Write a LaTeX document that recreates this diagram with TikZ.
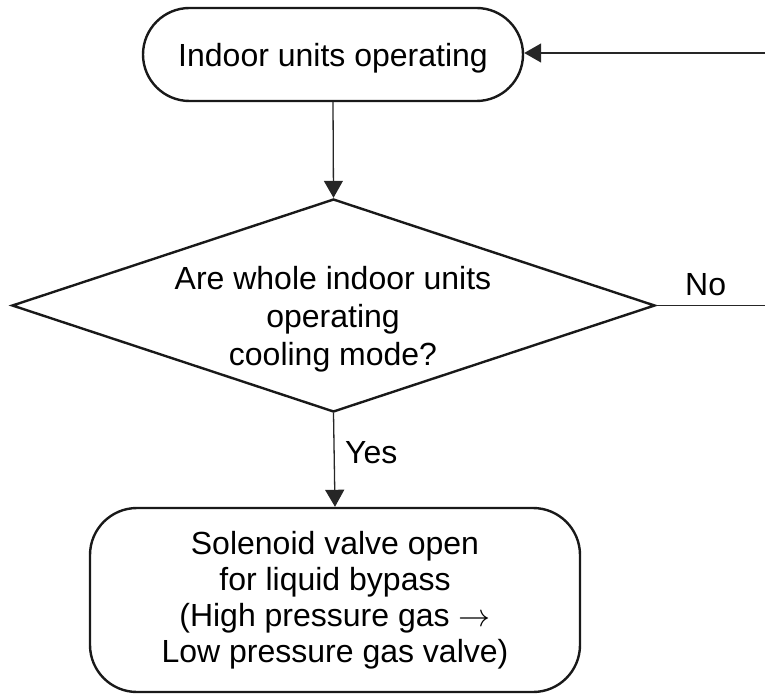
\RequirePackage{fix-cm}
\documentclass[tikz,border=0pt]{standalone}
\usepackage{fontspec}
\setmainfont{Liberation Sans}
\usetikzlibrary{shapes.geometric,arrows.meta}
\begin{document}
\begin{tikzpicture}[x=1pt,y=-1pt,
  shapeline/.style={draw=black!90, line width=2.4pt},
  termbox/.style={shapeline, inner sep=0pt, align=center, font=\fontsize{32}{36}\selectfont},
  decbox/.style={shapeline, diamond, inner sep=0pt},
  txt/.style={align=center, inner sep=0pt, font=\fontsize{32}{38}\selectfont},
  lbl/.style={inner sep=0pt, font=\fontsize{32}{36}\selectfont},
  conn/.style={draw=black!85, line width=1.3pt, -{Triangle[length=17pt,width=19pt]}},
  plain/.style={draw=black!85, line width=1.3pt}]
\useasboundingbox (0,0) rectangle (765,695);
\node[termbox, minimum width=380pt, minimum height=93pt, rounded corners=46.5pt, text depth=0pt] (top) at (333,54.5) {Indoor units operating};
\node[decbox, minimum width=643pt, minimum height=213pt] (dia) at (333.5,305.5) {};
\node[txt] (q) at (333,319) {Are whole indoor units\\operating\\cooling mode?};
\node[termbox, minimum width=490pt, minimum height=184pt, rounded corners=47pt] (bot) at (335,600) {Solenoid valve open\\for liquid bypass\\(High pressure gas $\rightarrow$\\Low pressure gas valve)};
\node[lbl, anchor=base west] (yes) at (345,463) {Yes};
\node[lbl, anchor=base west] (no) at (685,295) {No};
\coordinate (e1) at (765,305.5);
\coordinate (e2) at (765,53);
\draw[conn] (top.south) -- (dia.north);
\draw[conn] (dia.south) -- (bot.north);
\draw[plain] (dia.east) -- (e1);
\draw[conn] (e2) -- (top.east |- e2);
\end{tikzpicture}
\end{document}
